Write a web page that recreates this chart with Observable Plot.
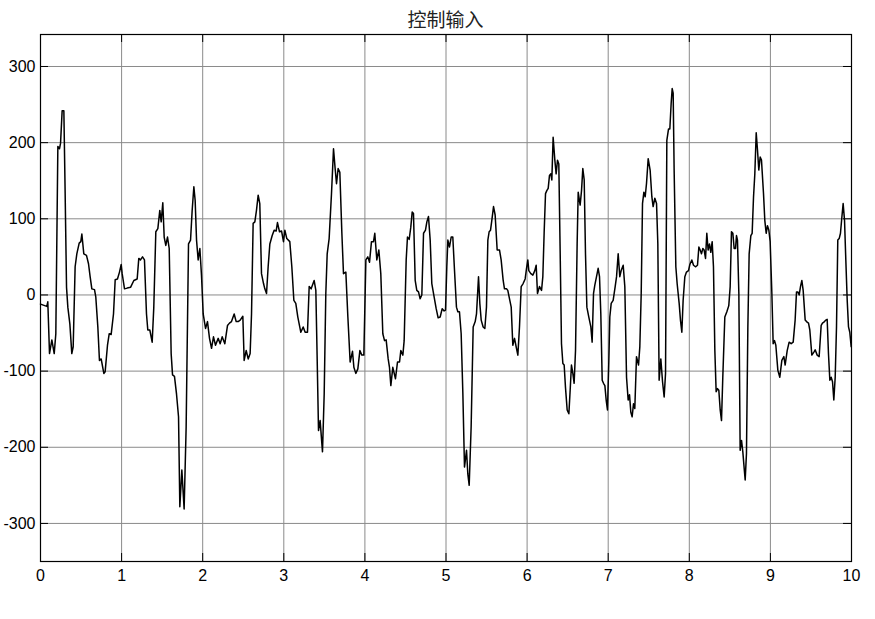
<!DOCTYPE html>
<html>
<head>
<meta charset="utf-8">
<script src="https://cdn.jsdelivr.net/npm/d3@7"></script>
<script src="https://cdn.jsdelivr.net/npm/@observablehq/plot@0.6"></script>
<style>
  html, body { margin: 0; padding: 0; background: #fff; }
  #wrap { width: 875px; height: 619px; position: relative; }
  #title { height: 30px; width: 891px; text-align: center; font-family: "Noto Sans CJK SC", sans-serif; font-size: 19px; line-height: 38px; color: #222; font-weight: 400; }
  svg { display: block; }
</style>
</head>
<body>
<div id="wrap">
  <div id="title">控制输入</div>
  <div id="chart"></div>
</div>
<script>
const title = "控制输入";
const xTicks = [0, 1, 2, 3, 4, 5, 6, 7, 8, 9, 10];
const yTicks = [-300, -200, -100, 0, 100, 200, 300];

const time = [
0.000,0.078,0.090,0.111,0.140,0.169,0.189,0.214,0.234,0.247,0.267,0.288,0.304,0.321,0.337,0.362,0.386,0.403,0.427,0.448,
0.477,0.497,0.510,0.534,0.567,0.592,0.612,0.633,0.666,0.682,0.707,0.727,0.748,0.781,0.797,0.826,0.847,0.871,0.900,0.921,
0.949,0.974,0.995,1.007,1.036,1.069,1.110,1.151,1.192,1.212,1.233,1.258,1.282,1.307,1.323,1.348,1.377,1.397,1.422,1.447,
1.471,1.488,1.508,1.525,1.545,1.566,1.587,1.611,1.628,1.652,1.677,1.702,1.718,1.743,1.771,1.796,1.825,1.850,1.870,1.891,
1.907,1.924,1.944,1.965,1.985,2.006,2.035,2.059,2.084,2.109,2.133,2.158,2.191,2.215,2.240,2.273,2.306,2.330,2.355,2.388,
2.413,2.437,2.462,2.495,2.511,2.536,2.561,2.585,2.602,2.622,2.643,2.663,2.684,2.704,2.725,2.750,2.766,2.787,2.807,2.828,
2.857,2.881,2.906,2.922,2.947,2.972,2.996,3.013,3.037,3.074,3.099,3.124,3.148,3.173,3.210,3.239,3.263,3.292,3.313,3.337,
3.354,3.374,3.395,3.411,3.428,3.448,3.477,3.498,3.518,3.535,3.559,3.588,3.613,3.633,3.650,3.670,3.691,3.716,3.736,3.765,
3.790,3.818,3.847,3.864,3.888,3.913,3.938,3.962,3.987,4.012,4.036,4.057,4.081,4.106,4.122,4.147,4.172,4.196,4.221,4.242,
4.262,4.287,4.303,4.320,4.344,4.377,4.402,4.427,4.443,4.468,4.484,4.509,4.525,4.546,4.566,4.583,4.599,4.620,4.640,4.661,
4.681,4.702,4.723,4.747,4.764,4.784,4.805,4.825,4.854,4.879,4.903,4.928,4.953,4.977,4.994,5.010,5.023,5.043,5.064,5.084,
5.105,5.129,5.146,5.166,5.187,5.208,5.228,5.253,5.269,5.286,5.310,5.335,5.360,5.376,5.401,5.417,5.434,5.458,5.479,5.499,
5.516,5.532,5.549,5.565,5.586,5.606,5.631,5.660,5.680,5.705,5.721,5.746,5.762,5.787,5.804,5.824,5.845,5.865,5.886,5.906,
5.927,5.951,5.976,5.993,6.009,6.021,6.046,6.071,6.095,6.112,6.128,6.153,6.178,6.194,6.210,6.227,6.243,6.260,6.276,6.293,
6.305,6.321,6.342,6.358,6.375,6.391,6.408,6.424,6.441,6.457,6.473,6.494,6.515,6.531,6.547,6.564,6.580,6.597,6.617,6.630,
6.654,6.671,6.687,6.704,6.720,6.737,6.761,6.786,6.802,6.819,6.835,6.856,6.876,6.893,6.909,6.926,6.942,6.959,6.975,6.991,
7.008,7.020,7.037,7.061,7.086,7.103,7.123,7.143,7.160,7.185,7.205,7.226,7.246,7.263,7.279,7.295,7.312,7.328,7.349,7.374,
7.390,7.407,7.423,7.440,7.456,7.472,7.493,7.517,7.538,7.554,7.575,7.596,7.612,7.628,7.649,7.670,7.690,7.707,7.723,7.744,
7.760,7.776,7.789,7.801,7.813,7.834,7.850,7.875,7.891,7.908,7.924,7.945,7.965,7.990,8.007,8.031,8.052,8.076,8.101,8.118,
8.134,8.150,8.167,8.183,8.200,8.216,8.232,8.249,8.265,8.282,8.298,8.315,8.331,8.348,8.364,8.381,8.397,8.413,8.438,8.463,
8.487,8.504,8.520,8.537,8.553,8.570,8.582,8.594,8.611,8.627,8.644,8.660,8.677,8.689,8.705,8.722,8.738,8.759,8.775,8.792,
8.808,8.825,8.841,8.857,8.874,8.890,8.915,8.931,8.948,8.964,8.981,8.997,9.018,9.034,9.051,9.067,9.092,9.116,9.141,9.166,
9.182,9.207,9.231,9.256,9.281,9.305,9.322,9.338,9.355,9.371,9.388,9.404,9.429,9.445,9.470,9.486,9.511,9.536,9.552,9.577,
9.601,9.626,9.642,9.667,9.684,9.700,9.716,9.733,9.749,9.766,9.782,9.799,9.815,9.831,9.848,9.864,9.881,9.897,9.914,9.930,
9.947,9.963,9.979,9.996
];

const u = [
-12,-15,-9,-77,-59,-77,-51,195,192,199,242,242,133,10,-16,-38,-77,-68,37,54,
68,70,80,54,52,41,24,8,7,-3,-42,-86,-84,-103,-101,-66,-51,-52,-25,20,
21,30,40,28,8,9,10,19,21,48,46,50,46,-25,-46,-46,-62,-16,83,87,
111,96,121,76,65,76,61,-77,-105,-107,-130,-160,-278,-230,-281,-173,67,72,111,142,
124,72,46,61,26,-25,-44,-35,-57,-70,-55,-66,-57,-64,-55,-64,-40,-37,-35,-25,
-35,-35,-33,-28,-86,-73,-84,-77,-25,94,96,111,131,120,28,15,8,2,37,67,
78,85,84,95,83,84,70,85,74,70,37,-7,-11,-29,-49,-42,-49,-49,11,8,
13,19,6,-81,-178,-165,-206,-130,2,54,74,133,192,166,146,166,161,81,28,30,
-29,-88,-74,-95,-103,-97,-73,-79,-79,46,50,43,70,70,81,46,59,28,-51,-60,
-59,-84,-95,-119,-95,-110,-88,-88,-73,-79,-60,46,76,73,89,109,107,19,6,4,
-5,0,81,85,96,103,72,15,-3,-18,-30,-29,-18,-21,-20,37,72,63,76,76,
32,-16,-22,-22,-51,-130,-226,-204,-235,-250,-173,-42,-35,-25,24,-11,-33,-42,-44,-16,
72,83,85,98,116,105,59,59,46,19,8,8,6,-7,-16,-66,-57,-68,-79,-42,
11,15,21,35,46,32,28,26,32,39,2,11,6,24,81,133,137,140,157,159,
151,207,177,159,177,172,54,-64,-90,-92,-121,-151,-156,-125,-92,-103,-116,-73,67,135,
118,137,166,151,54,-16,-29,-42,-62,2,13,24,35,24,-25,-112,-116,-119,-138,-151,
-86,-29,-11,-7,11,24,54,24,32,39,11,-108,-138,-131,-154,-160,-143,-149,-81,-92,
-68,2,120,135,129,146,179,164,129,116,127,120,67,-112,-84,-114,-134,-103,203,218,
218,251,271,265,164,37,15,-11,-33,-49,-7,24,30,32,40,46,39,37,39,63,
59,54,61,59,48,81,59,67,56,70,37,-73,-127,-123,-125,-151,-165,-108,-29,-22,
-14,11,83,81,61,61,78,72,2,-204,-191,-206,-228,-243,-208,-42,54,78,81,129,
159,213,190,164,181,177,133,98,81,91,85,70,2,-64,-60,-66,-99,-108,-86,-81,
-92,-73,-62,-64,-62,-33,4,4,0,11,19,6,-33,-35,-37,-46,-79,-75,-72,-79,
-81,-40,-37,-35,-33,-32,-77,-112,-108,-114,-138,-108,-42,72,74,81,102,120,98,46,
-7,-42,-49,-68
];

const data = time.map((t, i) => ({t, u: u[i]}));

const W = 875, H = 589;
const mL = 40, mR = 24, mT = 4, mB = 58;
const pw = W - mL - mR, ph = H - mT - mB;
const tick = 8;

const chart = Plot.plot({
  width: W,
  height: H,
  marginLeft: mL,
  marginRight: mR,
  marginTop: mT,
  marginBottom: mB,
  style: {fontFamily: "'Liberation Sans', Arial, sans-serif", fontSize: "16px", color: "#000", background: "#fff", overflow: "visible"},
  x: {domain: [0, 10], ticks: xTicks, label: null},
  y: {domain: [-350, 342], ticks: yTicks, label: null},
  marks: [
    Plot.gridX(xTicks, {stroke: "#8a8a8a", strokeOpacity: 1, strokeWidth: 1}),
    Plot.gridY(yTicks, {stroke: "#8a8a8a", strokeOpacity: 1, strokeWidth: 1}),
    Plot.tickX(xTicks, {x: d => d, insetTop: ph - tick, stroke: "#000"}),
    Plot.tickX(xTicks, {x: d => d, insetBottom: ph - tick, stroke: "#000"}),
    Plot.tickY(yTicks, {y: d => d, insetRight: pw - tick, stroke: "#000"}),
    Plot.tickY(yTicks, {y: d => d, insetLeft: pw - tick, stroke: "#000"}),
    Plot.line(data, {x: "t", y: "u", stroke: "#000", strokeWidth: 1.5, curve: "linear"}),
    Plot.frame({stroke: "#000", strokeWidth: 1.2}),
    Plot.axisX(xTicks, {anchor: "bottom", tickSize: 0, tickPadding: 8, fontSize: 16, label: null, tickFormat: d => String(d)}),
    Plot.axisY(yTicks, {anchor: "left", tickSize: 0, tickPadding: 5, fontSize: 16, label: null, tickFormat: d => String(d)})
  ]
});
document.getElementById("chart").appendChild(chart);
</script>
</body>
</html>
